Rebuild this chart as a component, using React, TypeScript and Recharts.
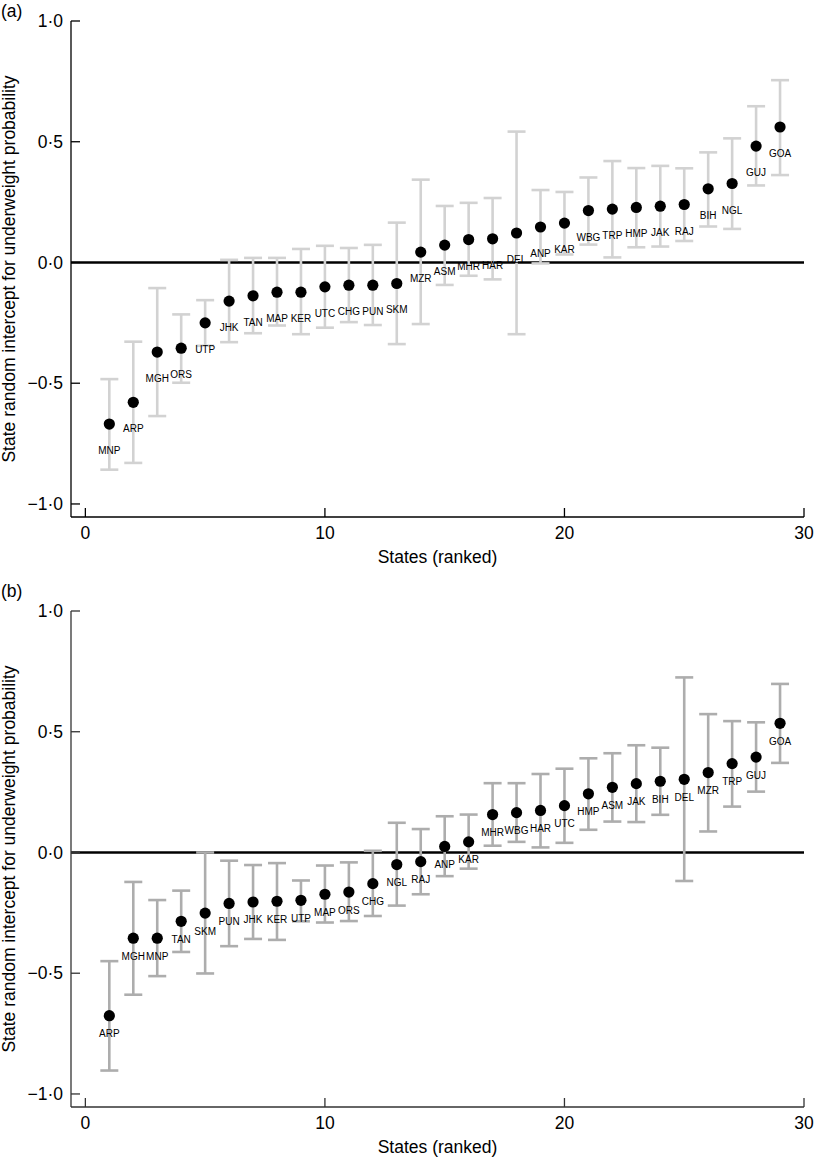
import React from 'react';
import { ScatterChart, Scatter, XAxis, YAxis, ReferenceLine, ErrorBar } from 'recharts';

// Panel (a)
const statesA = ['MNP','ARP','MGH','ORS','UTP','JHK','TAN','MAP','KER','UTC','CHG','PUN','SKM','MZR','ASM','MHR','HAR','DEL','ANP','KAR','WBG','TRP','HMP','JAK','RAJ','BIH','NGL','GUJ','GOA'];
const estA = [-0.669,-0.579,-0.371,-0.355,-0.250,-0.160,-0.138,-0.123,-0.123,-0.101,-0.094,-0.094,-0.087,0.043,0.072,0.095,0.098,0.122,0.147,0.163,0.215,0.221,0.228,0.233,0.240,0.305,0.327,0.482,0.561];
const lowA = [-0.858,-0.830,-0.636,-0.498,-0.345,-0.330,-0.293,-0.261,-0.297,-0.270,-0.247,-0.259,-0.338,-0.255,-0.093,-0.055,-0.070,-0.297,-0.004,0.033,0.074,0.021,0.063,0.066,0.089,0.149,0.139,0.319,0.362];
const highA = [-0.483,-0.328,-0.106,-0.215,-0.156,0.011,0.019,0.019,0.056,0.069,0.060,0.073,0.165,0.343,0.234,0.247,0.267,0.542,0.300,0.292,0.352,0.420,0.391,0.400,0.390,0.456,0.514,0.647,0.755];

// Panel (b)
const statesB = ['ARP','MGH','MNP','TAN','SKM','PUN','JHK','KER','UTP','MAP','ORS','CHG','NGL','RAJ','ANP','KAR','MHR','WBG','HAR','UTC','HMP','ASM','JAK','BIH','DEL','MZR','TRP','GUJ','GOA'];
const estB = [-0.676,-0.355,-0.355,-0.285,-0.251,-0.211,-0.205,-0.202,-0.198,-0.173,-0.164,-0.129,-0.050,-0.038,0.025,0.044,0.157,0.165,0.174,0.194,0.243,0.270,0.285,0.295,0.303,0.331,0.368,0.395,0.535];
const lowB = [-0.903,-0.589,-0.512,-0.412,-0.501,-0.388,-0.358,-0.362,-0.285,-0.290,-0.284,-0.263,-0.220,-0.173,-0.098,-0.067,0.028,0.044,0.021,0.040,0.094,0.128,0.126,0.156,-0.118,0.087,0.190,0.252,0.371];
const highB = [-0.450,-0.122,-0.197,-0.158,0.000,-0.034,-0.052,-0.044,-0.116,-0.054,-0.041,0.007,0.123,0.097,0.150,0.157,0.287,0.287,0.325,0.347,0.390,0.411,0.444,0.434,0.725,0.573,0.544,0.539,0.698];

const xTicks = [0, 10, 20, 30];
const yTicks = [-1, -0.5, 0, 0.5, 1];
const xTitle = 'States (ranked)';
const yTitle = 'State random intercept for underweight probability';

const FONT = '"Liberation Sans", Arial, Helvetica, sans-serif';
const TICK_LEN = 9;

const fmt = (v: number) => (v < 0 ? '\u2212' : '') + Math.abs(v).toFixed(1).replace('.', '\u00B7');

type PanelProps = {
  names: string[];
  est: number[];
  low: number[];
  high: number[];
  barColor: string;
  axisColor: string;
  labelDy: number;
};

function Panel({ names, est, low, high, barColor, axisColor, labelDy }: PanelProps) {
  const data = names.map((n, i) => ({
    rank: i + 1,
    est: est[i],
    name: n,
    err: [est[i] - low[i], high[i] - est[i]],
  }));

  const YTick = (p: any) => {
    const ax = p.x + 8;
    return (
      <g>
        <line x1={ax} x2={ax + TICK_LEN} y1={p.y} y2={p.y} stroke={axisColor} strokeWidth={1.3} />
        <text x={p.x} y={p.y} dy="0.355em" textAnchor="end" fontSize={17.5} fontFamily={FONT} fill="#000">
          {fmt(p.payload.value)}
        </text>
      </g>
    );
  };

  const XTick = (p: any) => {
    const ay = p.y - 10;
    return (
      <g>
        <line x1={p.x} x2={p.x} y1={ay} y2={ay - TICK_LEN} stroke={axisColor} strokeWidth={1.3} />
        <text x={p.x} y={p.y} dy="0.71em" textAnchor="middle" fontSize={17.5} fontFamily={FONT} fill="#000">
          {p.payload.value}
        </text>
      </g>
    );
  };

  const Dot = (p: any) => {
    if (p.cx == null || p.cy == null) return null;
    const nm = p.payload?.name ?? p.name;
    return (
      <g>
        <circle cx={p.cx} cy={p.cy} r={5.6} fill="#000" />
        <text x={p.cx} y={p.cy + labelDy} dy="0.35em" textAnchor="middle" fontSize={10} fontFamily={FONT} fill="#000">
          {nm}
        </text>
      </g>
    );
  };

  return (
    <ScatterChart width={814} height={590} margin={{ top: 21, right: 10, bottom: 13, left: 0 }}>
      <XAxis
        type="number"
        dataKey="rank"
        domain={[-0.6, 30]}
        ticks={xTicks}
        allowDataOverflow
        height={60}
        tickSize={0}
        tickMargin={10}
        tickLine={false}
        axisLine={{ stroke: axisColor, strokeWidth: 1.3 }}
        tick={XTick}
        label={{ value: xTitle, position: 'insideBottom', offset: 14, fontSize: 17.5, fill: '#000', fontFamily: FONT }}
      />
      <YAxis
        type="number"
        dataKey="est"
        domain={[-1.054, 1]}
        ticks={yTicks}
        allowDataOverflow
        width={71}
        tickSize={0}
        tickMargin={8}
        tickLine={false}
        axisLine={{ stroke: axisColor, strokeWidth: 1.3 }}
        tick={YTick}
        label={{ value: yTitle, angle: -90, position: 'insideLeft', offset: 9, fontSize: 17.5, fill: '#000', fontFamily: FONT, style: { textAnchor: 'middle' } }}
      />
      <ReferenceLine y={0} stroke="#000" strokeWidth={2.5} />
      <Scatter data={data} isAnimationActive={false} shape={Dot}>
        <ErrorBar dataKey="err" direction="y" width={9} stroke={barColor} strokeWidth={2.6} isAnimationActive={false} />
      </Scatter>
    </ScatterChart>
  );
}

const panelLabel: React.CSSProperties = {
  position: 'absolute',
  left: 1,
  fontSize: 17.5,
  fontFamily: FONT,
  color: '#000',
  lineHeight: '20px',
};

export default function App() {
  return (
    <div style={{ position: 'absolute', left: 0, top: 0, width: 814, height: 1159, background: '#fff' }}>
      <div style={{ position: 'absolute', left: 0, top: 0 }}>
        <Panel names={statesA} est={estA} low={lowA} high={highA} barColor="#d2d2d2" axisColor="#000" labelDy={26.5} />
      </div>
      <div style={{ position: 'absolute', left: 0, top: 590 }}>
        <Panel names={statesB} est={estB} low={lowB} high={highB} barColor="#adadad" axisColor="#333" labelDy={18} />
      </div>
      <div style={{ ...panelLabel, top: 1 }}>(a)</div>
      <div style={{ ...panelLabel, top: 581 }}>(b)</div>
    </div>
  );
}
